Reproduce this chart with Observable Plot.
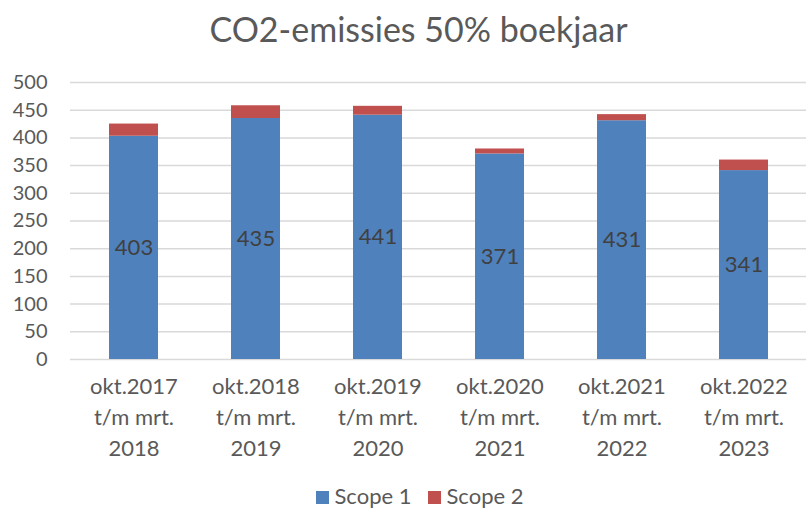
<!DOCTYPE html>
<html>
<head>
<meta charset="utf-8">
<script src="https://cdn.jsdelivr.net/npm/d3@7"></script>
<script src="https://cdn.jsdelivr.net/npm/@observablehq/plot@0.6"></script>
<style>
  html, body { margin: 0; padding: 0; background: #fff; overflow: hidden; }
  body { width: 807px; height: 510px; font-family: Lato, "Open Sans", sans-serif; color: #595959; }
  #title { height: 58px; line-height: 58px; text-align: center; font-size: 34px; padding-left: 30px; box-sizing: border-box; white-space: nowrap; }
  #legend { display: flex; justify-content: center; align-items: center; gap: 16px; font-size: 22px; padding-left: 32px; line-height: 26px; margin-top: 3px; }
  #legend span.sw { display: inline-block; width: 13px; height: 13px; margin-right: 6px; }
  #chart svg { display: block; }
</style>
</head>
<body>
<div id="title">CO2-emissies 50% boekjaar</div>
<div id="chart"></div>
<div id="legend"></div>
<script>
const periods = ["okt.2017\nt/m mrt.\n2018", "okt.2018\nt/m mrt.\n2019", "okt.2019\nt/m mrt.\n2020", "okt.2020\nt/m mrt.\n2021", "okt.2021\nt/m mrt.\n2022", "okt.2022\nt/m mrt.\n2023"];
const scope1 = [403, 435, 441, 371, 431, 341];
const scope2 = [22, 23, 16, 9, 11, 19];
const seriesNames = ["Scope 1", "Scope 2"];
const seriesColors = ["#4F81BD", "#C0504D"];
const yTicks = [0, 50, 100, 150, 200, 250, 300, 350, 400, 450, 500];

const rows = [];
periods.forEach((p, i) => {
  rows.push({period: p, series: seriesNames[0], value: scope1[i]});
  rows.push({period: p, series: seriesNames[1], value: scope2[i]});
});
const labels = periods.map((p, i) => ({period: p, value: scope1[i]}));

const plot = Plot.plot({
  width: 807,
  height: 422,
  marginTop: 24,
  marginBottom: 121,
  marginLeft: 70,
  marginRight: 1,
  style: {fontFamily: "Lato, 'Open Sans', sans-serif", fontSize: "20px", color: "#595959", background: "#fff"},
  x: {domain: periods, paddingInner: 0.6, paddingOuter: 0.3, label: null},
  y: {domain: [0, 500], label: null},
  color: {domain: seriesNames, range: seriesColors},
  marks: [
    Plot.ruleY(yTicks, {stroke: "#D9D9D9", strokeWidth: 1.5}),
    Plot.barY(rows, Plot.stackY({x: "period", y: "value", fill: "series", order: seriesNames})),
    Plot.text(labels, {x: "period", y: d => d.value / 2, text: d => String(d.value), fill: "#404040", fontSize: 22}),
    Plot.axisY({ticks: yTicks, tickSize: 0, tickPadding: 23, fill: "#595959", fontSize: 20, label: null}),
    Plot.axisX({tickSize: 0, tickPadding: 13, lineHeight: 1.4, fill: "#595959", fontSize: 22, label: null, textAnchor: "middle"})
  ]
});
document.getElementById("chart").appendChild(plot);

const legend = document.getElementById("legend");
seriesNames.forEach((n, i) => {
  const item = document.createElement("div");
  item.innerHTML = `<span class="sw" style="background:${seriesColors[i]}"></span>${n}`;
  legend.appendChild(item);
});
</script>
</body>
</html>
